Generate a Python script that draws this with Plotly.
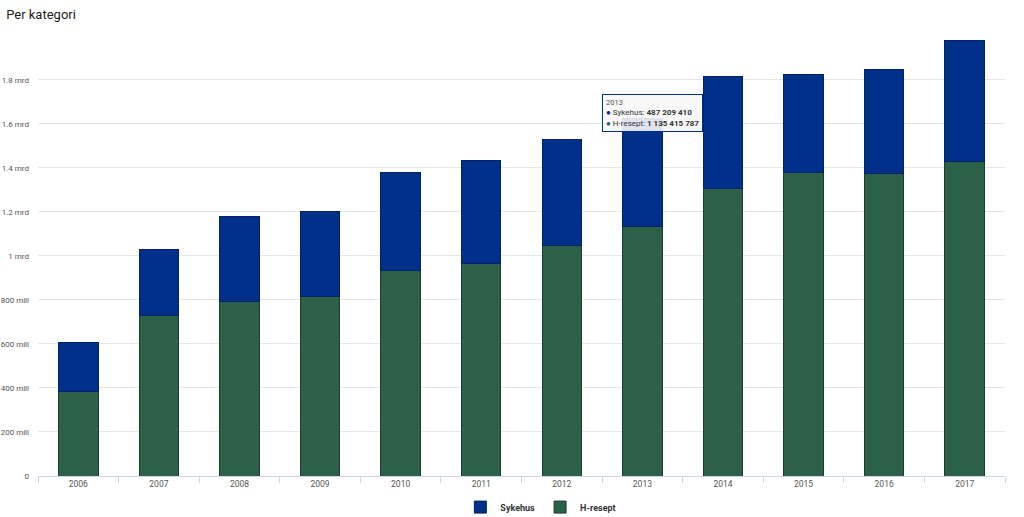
import plotly.graph_objects as go

years = ["2006", "2007", "2008", "2009", "2010", "2011", "2012", "2013", "2014", "2015", "2016", "2017"]
h_resept = [386e6, 727e6, 795e6, 814e6, 932e6, 964e6, 1045e6, 1135415787, 1305e6, 1377e6, 1373e6, 1427e6]
totals = [605e6, 1027e6, 1177e6, 1200e6, 1377e6, 1432e6, 1527e6, 1135415787 + 487209410, 1814e6, 1823e6, 1845e6, 1977e6]
sykehus = [t - h for t, h in zip(totals, h_resept)]
sykehus[7] = 487209410

tick_vals = [0, 200e6, 400e6, 600e6, 800e6, 1000e6, 1200e6, 1400e6, 1600e6, 1800e6]
tick_text = ["0", "200 mill", "400 mill", "600 mill", "800 mill", "1 mrd", "1.2 mrd", "1.4 mrd", "1.6 mrd", "1.8 mrd"]

BLUE = "#00308a"
GREEN = "#2c6149"

fig = go.Figure()
fig.add_trace(go.Bar(x=years, y=h_resept, name="H-resept", marker=dict(color=GREEN, line=dict(color="#1c3d2e", width=1)), width=0.49))
fig.add_trace(go.Bar(x=years, y=sykehus, name="Sykehus", marker=dict(color=BLUE, line=dict(color="#002266", width=1)), width=0.49))

fig.update_layout(
    barmode="stack",
    width=1024, height=517,
    margin=dict(l=38, r=19, t=38, b=41, autoexpand=False),
    paper_bgcolor="white", plot_bgcolor="white",
    font=dict(family="Roboto, Arial, sans-serif", color="#333333", size=9),
    title=dict(text="Per kategori", x=0.006, xanchor="left", y=0.973, yanchor="middle",
               font=dict(size=13, color="#222222", family="Roboto, Arial, sans-serif")),
    showlegend=True,
    legend=dict(orientation="h", x=0.52, xanchor="center", y=-0.071, yanchor="middle",
                traceorder="reversed", font=dict(size=9, color="#333333", weight="bold"),
                itemwidth=30, entrywidth=0),
    xaxis=dict(type="category", showgrid=False, showline=True, linecolor="#ccd6eb", linewidth=1,
               ticks="outside", tickson="boundaries", ticklen=6, tickcolor="#ccd6eb",
               automargin=False, tickfont=dict(size=8.5, color="#555555")),
    yaxis=dict(range=[0, 1.99e9], tickvals=tick_vals, ticktext=tick_text, showgrid=True,
               gridcolor="#e6e6e6", gridwidth=1, zeroline=False, showline=False, automargin=False,
               ticks="", ticklabelstandoff=8, tickfont=dict(size=8, color="#555555")),
)

fig.add_annotation(
    xref="paper", yref="paper", x=0.583, y=0.873, xanchor="left", yanchor="top",
    text=("<span style='font-size:7.5px;color:#555'>2013</span><br>"
          "<span style='color:%s'>●</span> Sykehus: <b>487 209 410</b><br>"
          "<span style='color:%s'>●</span> H-resept: <b>1 135 415 787</b>") % (BLUE, GREEN),
    showarrow=False, align="left", bgcolor="rgba(247,247,247,0.9)", bordercolor=BLUE,
    borderwidth=1, borderpad=3, font=dict(size=8, color="#333333"),
)

fig.write_html("out.html", config={"displayModeBar": False},
               post_script="document.body.style.margin='0';document.body.style.overflow='hidden';")
